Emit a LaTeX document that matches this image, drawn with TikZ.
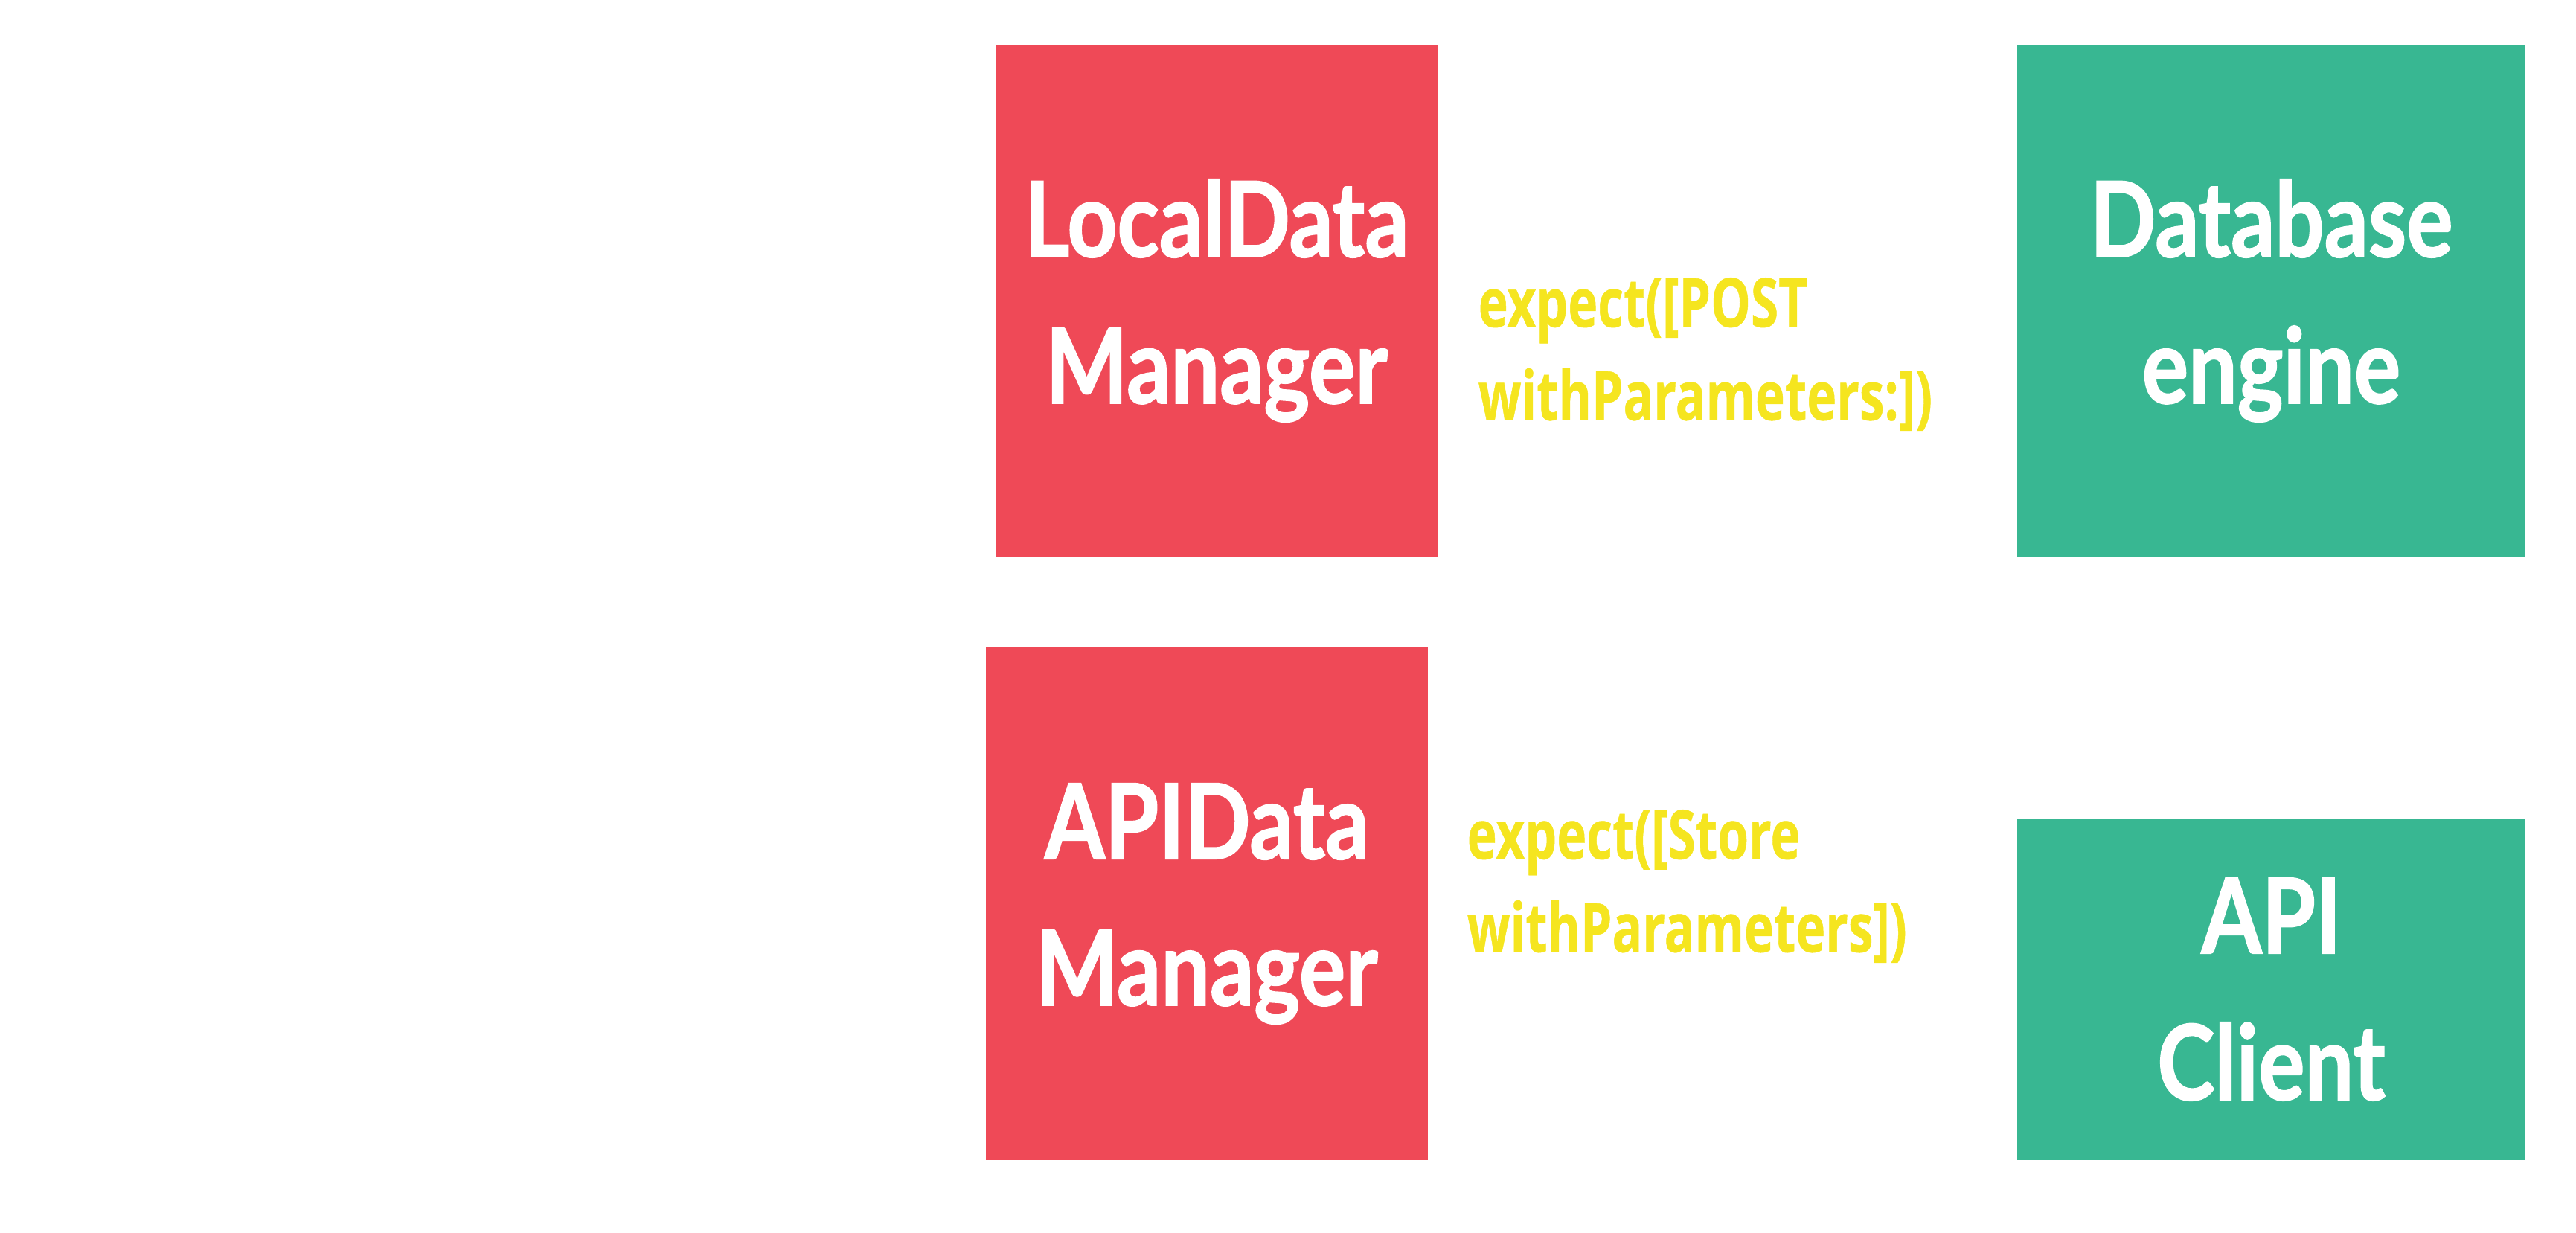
\documentclass[tikz,border=0pt]{standalone}
\usepackage{fontspec}
\usepackage{tikz}
\newfontfamily\boxfont{Lato}[FakeStretch=0.83,FakeBold=1.2]
\newfontfamily\codefont{Open Sans}[FakeStretch=0.74,FakeBold=0.5]
\definecolor{mgrred}{HTML}{EF4957}
\definecolor{enggreen}{HTML}{38B792}
\definecolor{expyellow}{HTML}{F5E51F}

\begin{document}
\begin{tikzpicture}[
 mgrbox/.style={fill=mgrred,minimum width=5.94cm,minimum height=6.88cm,inner sep=0pt,align=center,text=white,
  font=\boxfont\bfseries\fontsize{40}{56}\selectfont},
 engbox/.style={fill=enggreen,minimum width=6.83cm,inner sep=0pt,align=center,text=white,
  font=\boxfont\bfseries\fontsize{40}{56}\selectfont},
 expectlbl/.style={anchor=west,align=left,inner sep=0pt,text=expyellow,
  font=\codefont\bfseries\fontsize{26}{35.6}\selectfont},
 siglbl/.style={anchor=west,align=left,inner sep=0pt,text=white,
  font=\codefont\bfseries\fontsize{26}{35.6}\selectfont}]
\useasboundingbox (0,0) rectangle (34.62,16.56);
% ---------- local storage row
\node[siglbl] (sendsig) at (2.37,11.18){sendTweetWithBody:\\(NSString*)body image:\\(UIImage*)image};
\node[mgrbox] (localmgr) at (16.35,12.52){LocalData\\Manager};
\node[expectlbl] (postexp) at (19.86,11.80){expect([POST\\withParameters:])};
\node[engbox,minimum height=6.88cm] (dbengine) at (30.525,12.52){Database\\engine};
% ---------- api row
\node[siglbl] (storesig) at (2.23,3.19){storeTweetWithBody:\\(NSString*)body image:\\(NSURL*)imageURL};
\node[mgrbox,minimum height=6.89cm] (apimgr) at (16.22,4.415){APIData\\Manager};
\node[expectlbl] (storeexp) at (19.71,4.65){expect([Store\\withParameters])};
\node[engbox,minimum height=4.59cm] (apiclient) at (30.525,3.265){API\\Client};
\end{tikzpicture}
\end{document}
